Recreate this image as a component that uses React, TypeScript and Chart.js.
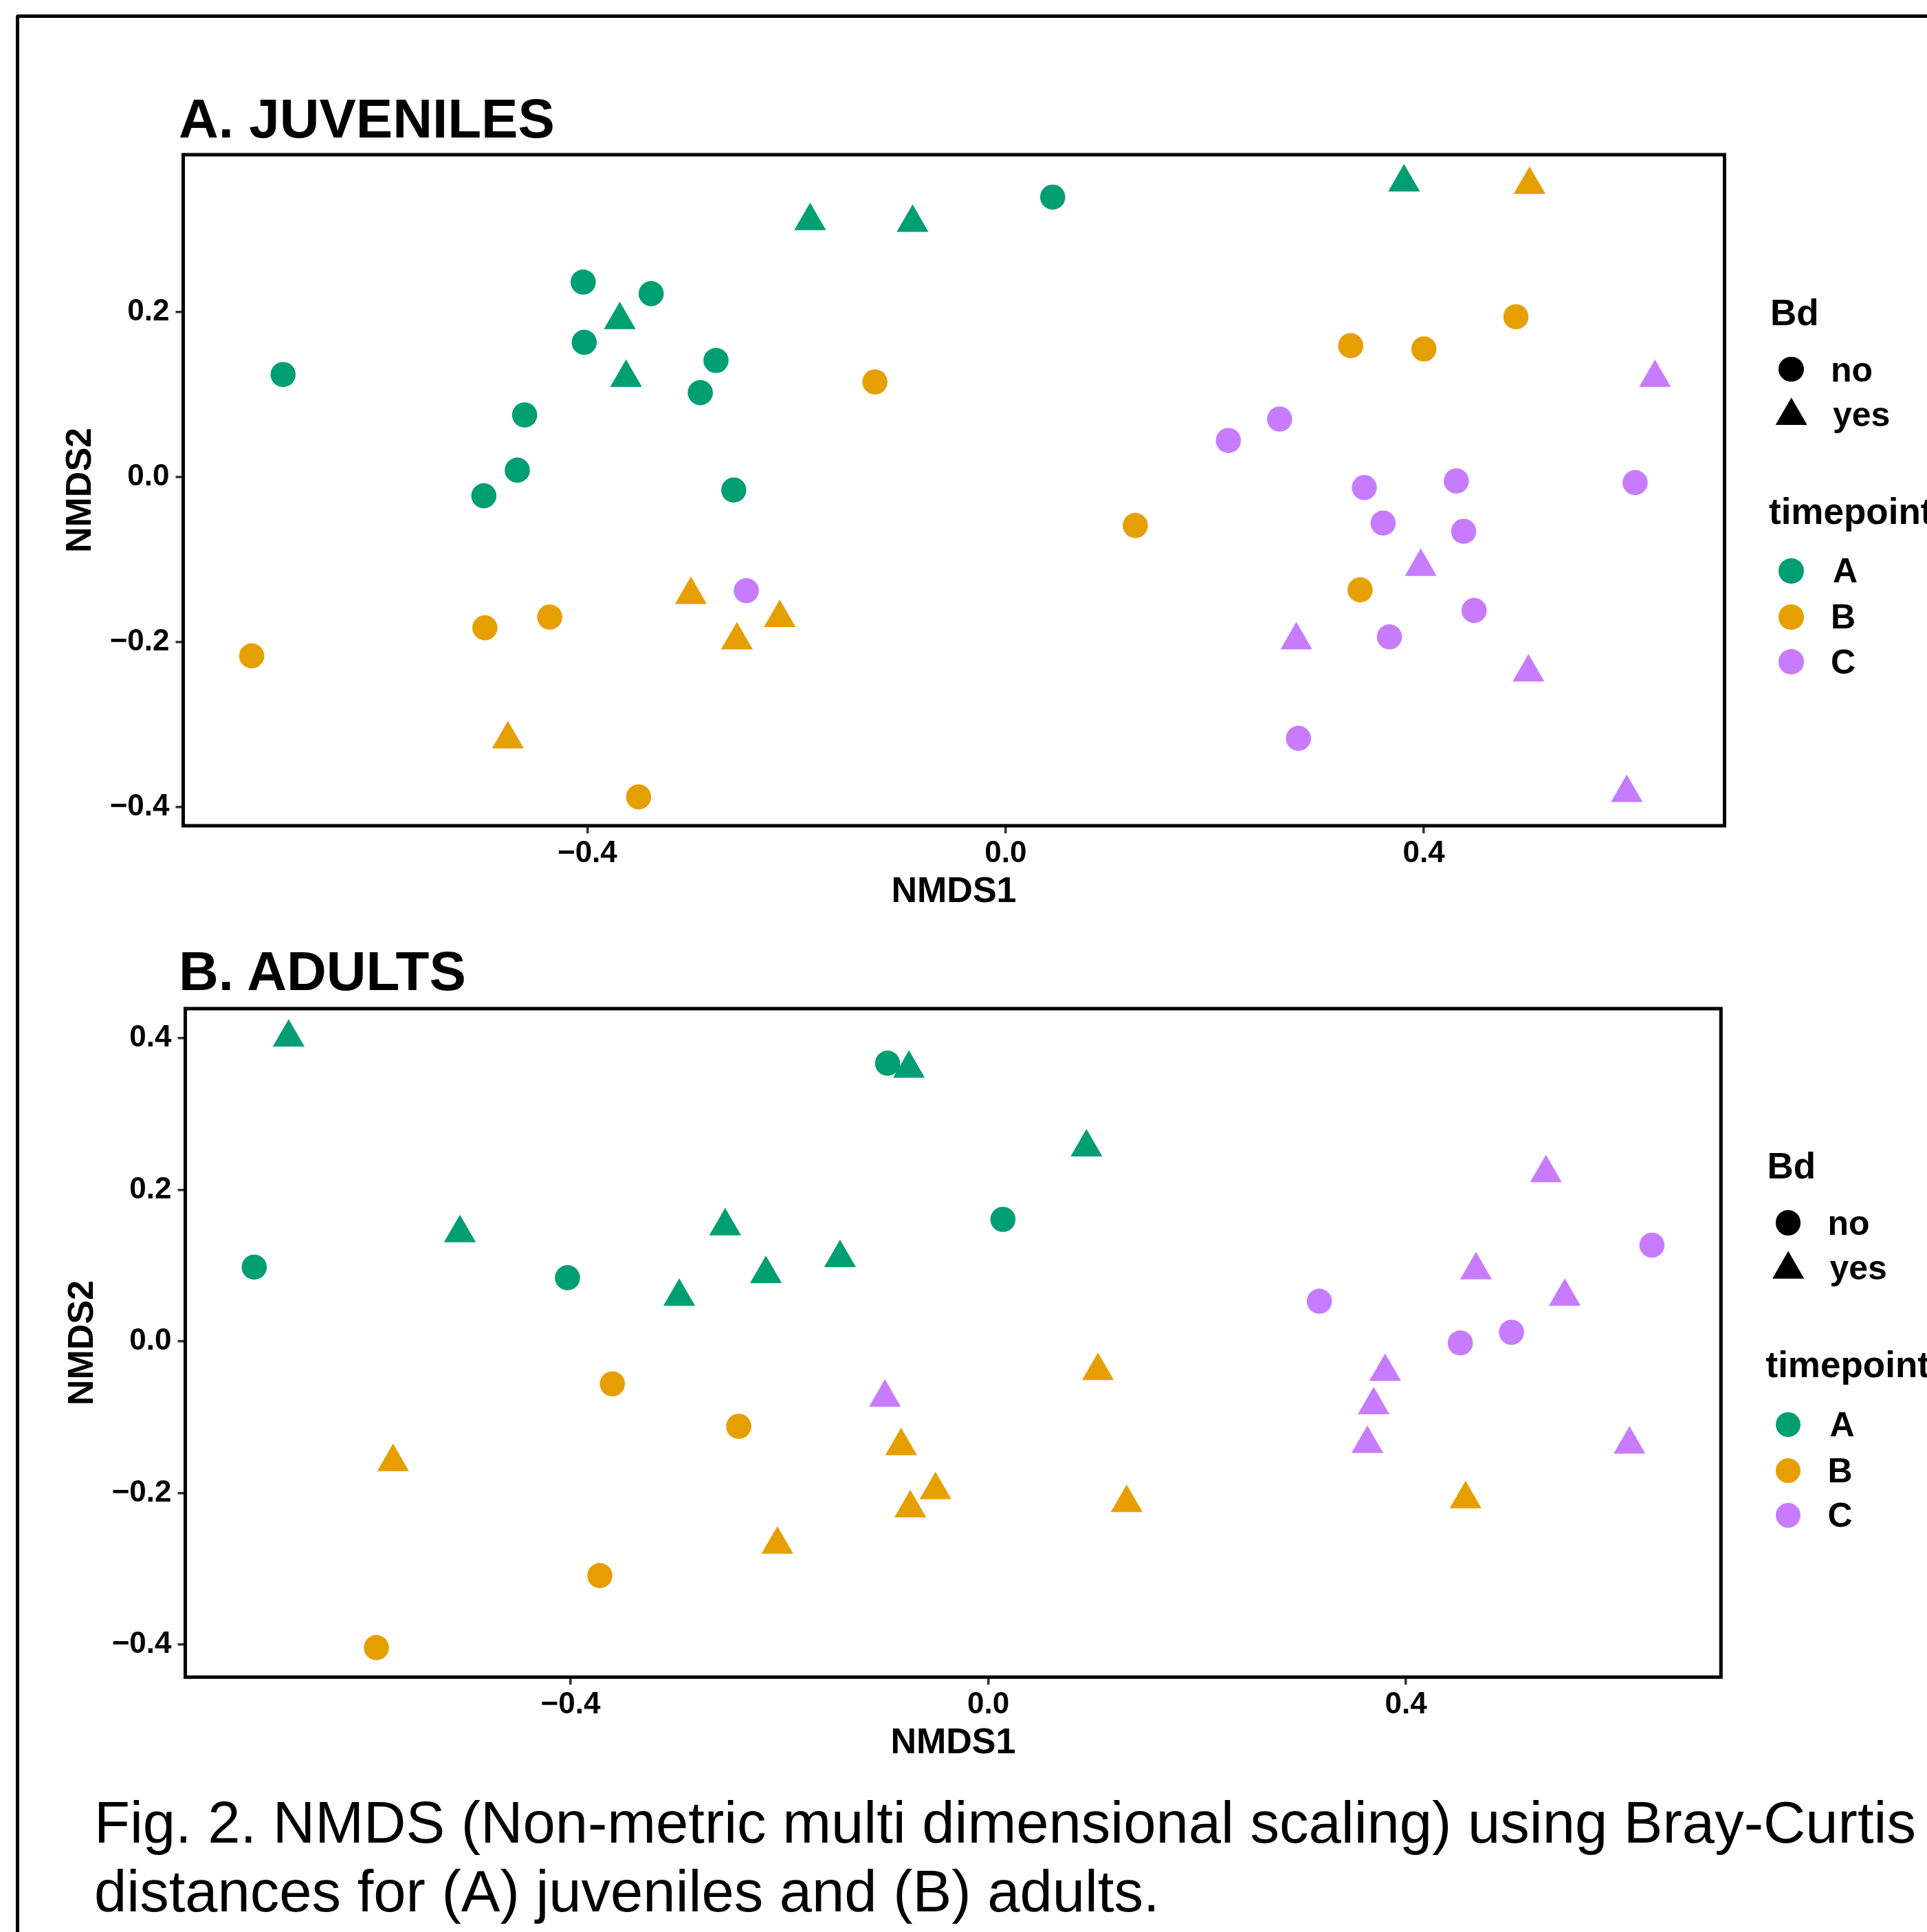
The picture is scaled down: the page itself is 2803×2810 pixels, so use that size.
import React, { useEffect, useRef } from 'react';
import { Chart, registerables } from 'chart.js';

Chart.register(...registerables);

const FONT = '"Liberation Sans", Arial, Helvetica, sans-serif';
const GREEN = '#009E73';
const ORANGE = '#E69F00';
const PURPLE = '#C77CFF';

type Pt = [number, number];

// ---------- A. JUVENILES (NMDS1, NMDS2) ----------
const juvTimeA_BdNo: Pt[] = [
  [-0.691, 0.124], [-0.404, 0.236], [-0.339, 0.222], [-0.403, 0.163], [-0.277, 0.141],
  [-0.292, 0.102], [-0.460, 0.075], [-0.467, 0.008], [-0.499, -0.023], [-0.260, -0.016],
  [0.045, 0.339],
];
const juvTimeA_BdYes: Pt[] = [
  [-0.369, 0.190], [-0.363, 0.120], [-0.187, 0.310], [-0.089, 0.308], [0.381, 0.357],
];
const juvTimeB_BdNo: Pt[] = [
  [-0.125, 0.115], [-0.721, -0.217], [-0.498, -0.183], [-0.436, -0.170], [-0.351, -0.388],
  [0.488, 0.194], [0.330, 0.159], [0.400, 0.155], [0.124, -0.059], [0.339, -0.137],
];
const juvTimeB_BdYes: Pt[] = [
  [-0.301, -0.143], [-0.257, -0.198], [-0.216, -0.171], [-0.476, -0.318], [0.501, 0.354],
];
const juvTimeC_BdNo: Pt[] = [
  [-0.248, -0.138], [0.213, 0.044], [0.262, 0.070], [0.343, -0.013], [0.431, -0.005],
  [0.602, -0.007], [0.361, -0.056], [0.438, -0.066], [0.448, -0.162], [0.367, -0.194],
  [0.280, -0.317],
];
const juvTimeC_BdYes: Pt[] = [
  [0.621, 0.120], [0.397, -0.109], [0.278, -0.198], [0.500, -0.237], [0.594, -0.383],
];

// ---------- B. ADULTS (NMDS1, NMDS2) ----------
const aduTimeA_BdNo: Pt[] = [
  [-0.703, 0.098], [-0.403, 0.084], [-0.0965, 0.367], [0.014, 0.161],
];
const aduTimeA_BdYes: Pt[] = [
  [-0.670, 0.401], [-0.506, 0.143], [-0.296, 0.059], [-0.252, 0.152], [-0.213, 0.089],
  [-0.142, 0.110], [-0.076, 0.360], [0.094, 0.256],
];
const aduTimeB_BdNo: Pt[] = [
  [-0.360, -0.056], [-0.239, -0.112], [-0.372, -0.309], [-0.586, -0.404],
];
const aduTimeB_BdYes: Pt[] = [
  [-0.570, -0.159], [-0.202, -0.268], [-0.0835, -0.138], [-0.0506, -0.196], [-0.0747, -0.220],
  [0.105, -0.039], [0.1325, -0.213], [0.457, -0.208],
];
const aduTimeC_BdNo: Pt[] = [
  [0.6355, 0.127], [0.317, 0.053], [0.452, -0.002], [0.501, 0.012],
];
const aduTimeC_BdYes: Pt[] = [
  [-0.099, -0.074], [0.534, 0.222], [0.467, 0.094], [0.552, 0.059], [0.380, -0.040],
  [0.369, -0.084], [0.363, -0.135], [0.614, -0.136],
];

// ---------- axes ----------
const xTicks = [-0.4, 0.0, 0.4];
const yTicksJuv = [-0.4, -0.2, 0.0, 0.2];
const yTicksAdu = [-0.4, -0.2, 0.0, 0.2, 0.4];
const xTitle = 'NMDS1';
const yTitle = 'NMDS2';
const bdLabels = ['no', 'yes'];
const timepointLabels = ['A', 'B', 'C'];
const timepointColors = [GREEN, ORANGE, PURPLE];

const fmt = (v: number) => {
  const s = Math.abs(v).toFixed(1);
  return v < -1e-9 ? '\u2212' + s : s;
};

const CIRCLE_R = 18.3;
const TRI_R = 26.7;

function makeDatasets(groups: Pt[][][]) {
  // groups[timepoint][bd]
  const ds: any[] = [];
  groups.forEach((byBd, ti) => {
    byBd.forEach((pts, bi) => {
      ds.push({
        label: timepointLabels[ti] + ' ' + bdLabels[bi],
        data: pts.map(([x, y]) => ({ x, y })),
        pointStyle: bi === 0 ? 'circle' : 'triangle',
        pointRadius: bi === 0 ? CIRCLE_R : TRI_R,
        pointHoverRadius: bi === 0 ? CIRCLE_R : TRI_R,
        backgroundColor: timepointColors[ti],
        borderWidth: 0,
        order: bi === 0 ? 1 : 0,
        clip: false,
      });
    });
  });
  return ds;
}

const framePlugin = {
  id: 'panelFrame',
  afterDraw(chart: any) {
    const { ctx, chartArea: a } = chart;
    ctx.save();
    ctx.strokeStyle = '#000';
    ctx.lineWidth = 5;
    ctx.strokeRect(a.left, a.top, a.right - a.left, a.bottom - a.top);
    ctx.restore();
  },
};

type PanelProps = {
  groups: Pt[][][];
  yTicks: number[];
  xMin: number; xMax: number; yMin: number; yMax: number;
  top: number; width: number; height: number;
  padTop: number; padRight: number;
  yAxisWidth: number; xAxisHeight: number;
  xTitlePad: number; yTitlePad: number;
};

function ScatterPanel(p: PanelProps) {
  const ref = useRef<HTMLCanvasElement | null>(null);
  useEffect(() => {
    if (!ref.current) return;
    const chart = new Chart(ref.current, {
      type: 'scatter',
      data: { datasets: makeDatasets(p.groups) },
      plugins: [framePlugin],
      options: {
        animation: false,
        responsive: false,
        devicePixelRatio: 1,
        events: [],
        layout: { padding: { top: p.padTop, right: p.padRight, left: 0, bottom: 0 } },
        plugins: { legend: { display: false }, tooltip: { enabled: false }, title: { display: false } },
        scales: {
          x: {
            type: 'linear',
            min: p.xMin,
            max: p.xMax,
            afterBuildTicks: (s: any) => { s.ticks = xTicks.map((v) => ({ value: v })); },
            afterFit: (s: any) => { s.height = p.xAxisHeight; },
            grid: { drawOnChartArea: false, drawTicks: true, tickLength: 11, color: '#333', lineWidth: 3.5 },
            border: { display: false },
            ticks: {
              color: '#000',
              font: { family: FONT, size: 44, weight: 'bold' },
              padding: 3.5,
              maxRotation: 0,
              autoSkip: false,
              callback: (v: any) => fmt(Number(v)),
            },
            title: {
              display: true, text: xTitle, color: '#000',
              font: { family: FONT, size: 52, weight: 'bold' },
              padding: { top: 0, bottom: p.xTitlePad },
            },
          },
          y: {
            type: 'linear',
            min: p.yMin,
            max: p.yMax,
            afterBuildTicks: (s: any) => { s.ticks = p.yTicks.map((v) => ({ value: v })); },
            afterFit: (s: any) => { s.width = p.yAxisWidth; },
            grid: { drawOnChartArea: false, drawTicks: true, tickLength: 11, color: '#333', lineWidth: 3.5 },
            border: { display: false },
            ticks: {
              color: '#000',
              font: { family: FONT, size: 44, weight: 'bold' },
              padding: 9,
              autoSkip: false,
              callback: (v: any) => fmt(Number(v)),
            },
            title: {
              display: true, text: yTitle, color: '#000',
              font: { family: FONT, size: 52, weight: 'bold' },
              padding: { top: p.yTitlePad, bottom: 0 },
            },
          },
        },
      } as any,
    });
    return () => chart.destroy();
  }, []);
  return (
    <canvas
      ref={ref}
      width={p.width}
      height={p.height}
      style={{ position: 'absolute', left: 0, top: p.top, width: p.width, height: p.height }}
    />
  );
}

function T(props: { text: string; left: number; baseline: number; size: number; bold?: boolean }) {
  const { text, left, baseline, size, bold } = props;
  return (
    <div
      style={{
        position: 'absolute', left, top: baseline - 0.8465 * size,
        fontFamily: FONT, fontSize: size, lineHeight: size + 'px',
        fontWeight: bold ? 700 : 400, color: '#000', whiteSpace: 'nowrap',
      }}
    >
      {text}
    </div>
  );
}

function Dot({ cx, cy, r, color }: { cx: number; cy: number; r: number; color: string }) {
  return (
    <div style={{ position: 'absolute', left: cx - r, top: cy - r, width: 2 * r, height: 2 * r, borderRadius: '50%', background: color }} />
  );
}

function Tri({ cx, cy, r, color }: { cx: number; cy: number; r: number; color: string }) {
  const w = Math.sqrt(3) * r;
  const h = 1.5 * r;
  return (
    <div
      style={{
        position: 'absolute', left: cx - w / 2, top: cy - r, width: w, height: h,
        background: color, clipPath: 'polygon(50% 0, 100% 100%, 0 100%)',
      }}
    />
  );
}

function Legend({ x0, y0 }: { x0: number; y0: number }) {
  const keyX = x0 + 30.7;
  const labX = x0 + 88;
  const tpBase = y0 + 289;
  const tpKeys = [357.8, 424.8, 489.9];
  return (
    <>
      <T text="Bd" left={x0} baseline={y0} size={53} bold />
      <Dot cx={keyX} cy={y0 + 64.3} r={CIRCLE_R} color="#000" />
      <T text={bdLabels[0]} left={labX} baseline={y0 + 82.3} size={50} bold />
      <Tri cx={keyX} cy={y0 + 132.3} r={TRI_R} color="#000" />
      <T text={bdLabels[1]} left={labX + 3} baseline={y0 + 147.3} size={50} bold />
      <T text="timepoint" left={x0 - 2} baseline={tpBase} size={53} bold />
      {timepointLabels.map((lab, i) => (
        <React.Fragment key={lab}>
          <Dot cx={keyX} cy={y0 + tpKeys[i]} r={CIRCLE_R} color={timepointColors[i]} />
          <T text={lab} left={labX + (i === 0 ? 3 : 0)} baseline={y0 + tpKeys[i] + 17.3} size={50} bold />
        </React.Fragment>
      ))}
    </>
  );
}

export default function App() {
  const juvGroups: Pt[][][] = [
    [juvTimeA_BdNo, juvTimeA_BdYes],
    [juvTimeB_BdNo, juvTimeB_BdYes],
    [juvTimeC_BdNo, juvTimeC_BdYes],
  ];
  const aduGroups: Pt[][][] = [
    [aduTimeA_BdNo, aduTimeA_BdYes],
    [aduTimeB_BdNo, aduTimeB_BdYes],
    [aduTimeC_BdNo, aduTimeC_BdYes],
  ];
  return (
    <div style={{ position: 'fixed', left: 0, top: 0, width: 2803, height: 2810, overflow: 'hidden', background: '#fff' }}>
      <div
        style={{
          position: 'absolute', left: 23, top: 20.5, width: 3000, height: 3000,
          borderTop: '5px solid #000', borderLeft: '5px solid #000', borderTopLeftRadius: 4, boxSizing: 'border-box',
        }}
      />
      <ScatterPanel
        groups={juvGroups} yTicks={yTicksJuv}
        xMin={-0.7865} xMax={0.6875} yMin={-0.4229} yMax={0.3904}
        top={0} width={2803} height={1340}
        padTop={225} padRight={2803 - 2508.5}
        yAxisWidth={266.5} xAxisHeight={1340 - 1201}
        xTitlePad={11.6} yTitlePad={86.3}
      />
      <ScatterPanel
        groups={aduGroups} yTicks={yTicksAdu}
        xMin={-0.769} xMax={0.7016} yMin={-0.4429} yMax={0.439}
        top={1340} width={2803} height={1250}
        padTop={127} padRight={2803 - 2503.3}
        yAxisWidth={269.5} xAxisHeight={2590 - 2439.3}
        xTitlePad={23.6} yTitlePad={89.3}
      />
      <T text="A. JUVENILES" left={260} baseline={201} size={80} bold />
      <T text="B. ADULTS" left={260} baseline={1440.5} size={80} bold />
      <Legend x0={2575} y0={472.7} />
      <Legend x0={2570.5} y0={1714} />
      <T text="Fig. 2. NMDS (Non-metric multi dimensional scaling) using Bray-Curtis" left={137} baseline={2680} size={85} />
      <T text="distances for (A) juveniles and (B) adults." left={137} baseline={2780} size={85} />
    </div>
  );
}
